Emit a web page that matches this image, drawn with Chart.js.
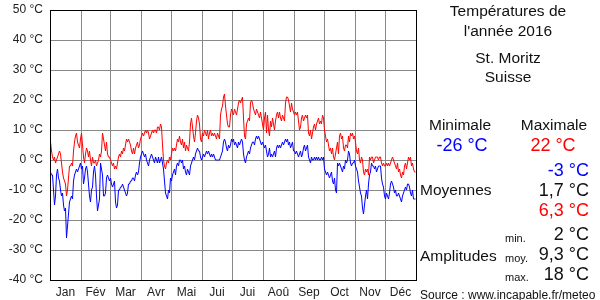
<!DOCTYPE html>
<html>
<head>
<meta charset="utf-8">
<script src="https://cdn.jsdelivr.net/npm/chart.js@4"></script>
<style>
  body { margin: 0; background: #fff; }
  #wrap { position: relative; width: 600px; height: 300px; font-family: "Liberation Sans", Arial, sans-serif; color: #111; }
  #wrap canvas { position: absolute; left: 0; top: 0; }
  .t { position: absolute; line-height: 1; white-space: nowrap; }
  .c { transform: translate(-50%, -50%); }
  .r { transform: translate(-100%, -50%); }
  .l { transform: translate(0, -50%); }
</style>
</head>
<body>
<div id="wrap">
  <canvas id="tempChart" width="600" height="300"></canvas>
  <div class="t c" style="left:508px;top:11px;font-size:15.5px">Températures de</div>
  <div class="t c" style="left:508px;top:31px;font-size:15.5px">l'année 2016</div>
  <div class="t c" style="left:508px;top:58px;font-size:15.5px">St. Moritz</div>
  <div class="t c" style="left:508px;top:77px;font-size:15.5px">Suisse</div>
  <div class="t c" style="left:460px;top:125px;font-size:15.5px">Minimale</div>
  <div class="t c" style="left:554px;top:125px;font-size:15.5px">Maximale</div>
  <div class="t c" style="left:462px;top:145px;font-size:18px;color:#00f">-26 °C</div>
  <div class="t c" style="left:553px;top:145px;font-size:18px;color:#f00">22 °C</div>
  <div class="t r" style="left:589px;top:170px;font-size:18px;color:#00f">-3 °C</div>
  <div class="t l" style="left:420px;top:190px;font-size:15.5px">Moyennes</div>
  <div class="t r" style="left:589px;top:190px;font-size:18px">1,7 °C</div>
  <div class="t r" style="left:589px;top:210px;font-size:18px;color:#f00">6,3 °C</div>
  <div class="t l" style="left:505px;top:238px;font-size:11px">min.</div>
  <div class="t r" style="left:589px;top:234px;font-size:18px">2 °C</div>
  <div class="t l" style="left:420px;top:256px;font-size:15.5px">Amplitudes</div>
  <div class="t l" style="left:505px;top:258px;font-size:11px">moy.</div>
  <div class="t r" style="left:589px;top:254px;font-size:18px">9,3 °C</div>
  <div class="t l" style="left:505px;top:277px;font-size:11px">max.</div>
  <div class="t r" style="left:589px;top:274px;font-size:18px">18 °C</div>
  <div class="t l" style="left:420px;top:295px;font-size:12px">Source : www.incapable.fr/meteo</div>
</div>
<script>
const monthLabels = ['Jan', 'Fév', 'Mar', 'Avr', 'Mai', 'Jui', 'Jui', 'Aoû', 'Sep', 'Oct', 'Nov', 'Déc'];
const monthDays = [31, 29, 31, 30, 31, 30, 31, 31, 30, 31, 30, 31];

// daily maximum, 2016
const tmax = [
  6, 3, 1, 0, 1, -1, 0, 1, 2, 3, 2, -1, -4, -6, -7, -8, -12, -10, -6, -2, -2, -1, -2, 3, 6, 8, 9, 6, 5, 4, 7,
  9, 5, 1, -1, 2, 4, 3, 1, 3, 0, -2, 1, -1, -1, 0, -2, -1, 0, 2, 1, 3, 9, 7, 5, 3, 6, 2, 1, 1,
  0, -1, -2, -1, -3, -2, -3, -1, 1, 2, 1, 3, 2, 4, 3, 5, 7, 6, 7, 6, 5, 3, 2, 4, 2, 4, 5, 6, 4, 5, 7,
  8, 9, 8, 9, 10, 9, 10, 9, 7, 8, 9, 10, 9, 10, 10, 9, 11, 11, 10, 12, 11, 5, 0, -2, -3, -1, 0, -1, 1, 0,
  2, 4, 3, 4, 3, 5, 7, 6, 8, 6, 5, 7, 4, 6, 3, 5, 4, 3, 6, 12, 14, 11, 8, 6, 9, 13, 15, 14, 12, 7, 6,
  9, 8, 10, 9, 8, 10, 7, 9, 10, 8, 9, 8, 9, 8, 7, 9, 8, 7, 15, 17, 18, 21, 22, 18, 15, 12, 11, 11, 15, 17,
  16, 15, 17, 16, 15, 17, 19, 20, 19, 20, 21, 14, 8, 7, 12, 13, 14, 13, 19, 20, 19, 17, 16, 15, 17, 16, 15, 14, 16, 14, 12,
  10, 14, 16, 9, 15, 10, 8, 13, 11, 14, 12, 10, 13, 15, 16, 14, 16, 14, 13, 15, 14, 13, 19, 21, 21, 20, 18, 16, 19, 17, 16,
  15, 16, 15, 16, 13, 10, 11, 14, 15, 13, 14, 15, 14, 15, 9, 8, 10, 7, 9, 11, 12, 10, 12, 13, 14, 12, 13, 12, 15, 14,
  10, 8, 6, 7, 5, 3, 4, 2, 4, 1, 0, 2, 4, 6, 2, 8, 9, 7, 8, 4, 3, 5, 5, 4, 8, 6, 9, 8, 9, 7, 8,
  6, 3, 2, 4, 0, -1, 1, 0, -4, -5, -3, -4, -3, -5, 1, 0, 1, 1, -1, 0, 1, 1, 1, 0, 1, 1, -1, -2, -1, -2,
  -2, -1, -2, -1, -2, -1, 0, 1, 0, -1, -2, -3, -1, -4, -3, -5, -6, -4, -5, -2, -1, -3, -1, 1, 0, 1, -2, -1, -3, -4, -4
];

// daily minimum, 2016
const tmin = [
  -4, -5, -5, -10, -15, -12, -5, -3, -6, -7, -10, -12, -11, -15, -17, -16, -26, -22, -18, -14, -13, -12, -13, -7, -5, -4, -3, -4, -3, -2, -1,
  -3, -2, -8, -6, -3, -2, -4, -8, -12, -14, -10, -9, -4, -2, -5, -12, -17, -15, -13, -1, -3, -5, -12, -12, -11, -6, -5, -6, -7,
  -6, -8, -9, -8, -7, -14, -16, -15, -10, -10, -9, -9, -8, -9, -10, -11, -12, -11, -8, -8, -7, -7, -6, -6, -7, -5, -4, -5, -4, -1, 1,
  2, 3, 2, 1, 2, 0, -1, -2, 0, 1, 2, 1, 0, -1, 1, 0, -1, 1, -1, 0, 1, -1, -3, -7, -11, -12, -13, -10, -11, -6,
  -7, -5, -4, -3, -5, -2, -1, -2, 0, 0, -1, 0, -3, -2, -4, -5, -3, -4, -5, -2, -1, 0, 1, 0, 2, 3, 4, 3, 3, 1, 0,
  1, 2, 1, 2, 3, 2, 3, 2, 1, 2, 1, 2, 1, 0, 0, 0, 0, 0, 1, 2, 3, 6, 7, 6, 4, 3, 5, 4, 5, 7,
  6, 7, 5, 6, 5, 4, 6, 5, 6, 7, 6, 2, 0, -1, 1, 2, 3, 2, 4, 5, 6, 6, 5, 7, 8, 7, 8, 7, 6, 5, 6,
  5, 4, 5, 3, 1, 2, 4, 1, 2, 1, 2, 3, 1, 4, 5, 4, 5, 4, 5, 6, 5, 6, 7, 6, 7, 5, 6, 4, 5, 6, 3,
  3, 2, 3, 2, 1, 2, 3, 1, 2, 4, 5, 3, 4, 5, 1, 0, -1, 1, 0, 0, 1, 0, 1, 0, 1, 0, 0, 1, 0, 1,
  -3, -4, -5, -4, -5, -6, -5, -4, -7, -8, -6, -10, -11, -1, -2, -1, -2, -3, -4, -2, -3, 0, -1, 0, 3, 2, -1, -2, -1, -1, 0,
  -2, -3, -4, -7, -9, -11, -12, -16, -18, -15, -12, -10, -13, -8, -5, -4, -1, -2, -2, -3, -2, -4, -3, -2, -2, -2, -6, -8, -9, -12,
  -13, -11, -12, -13, -11, -8, -7, -8, -9, -11, -10, -12, -12, -11, -12, -13, -14, -12, -11, -10, -9, -10, -8, -8, -9, -11, -12, -10, -13, -13, -13
];

// x tick values: month boundaries (grid) alternating with month centres (labels)
const xTicks = [];
let start = 0;
monthDays.forEach(n => {
  xTicks.push(start, start + n / 2);
  start += n;
});
xTicks.push(start);

const frame = {
  id: 'frame',
  afterDraw(chart) {
    const a = chart.chartArea;
    const c = chart.ctx;
    c.save();
    c.strokeStyle = '#000';
    c.lineWidth = 1;
    c.strokeRect(Math.round(a.left) + 0.5, Math.round(a.top) + 0.5, Math.round(a.right - a.left), Math.round(a.bottom - a.top));
    c.restore();
  }
};

const ctx = document.getElementById('tempChart').getContext('2d');
new Chart(ctx, {
  type: 'line',
  data: {
    datasets: [{
      data: tmax.map((v, i) => ({ x: i + 0.5, y: v })),
      borderColor: '#ff0000',
      borderWidth: 1,
      pointRadius: 0
    }, {
      data: tmin.map((v, i) => ({ x: i + 0.5, y: v })),
      borderColor: '#0000ff',
      borderWidth: 1,
      pointRadius: 0
    }]
  },
  options: {
    responsive: false,
    animation: false,
    layout: { padding: { left: 0, right: 184, top: 10, bottom: 0 } },
    plugins: { legend: { display: false }, tooltip: { enabled: false } },
    scales: {
      x: {
        type: 'linear',
        min: 0,
        max: 366,
        afterBuildTicks: s => { s.ticks = xTicks.map(v => ({ value: v })); },
        afterFit: s => {
          s.height = 20;
          s.paddingLeft = 0; s.paddingRight = 0; s.paddingTop = 0; s.paddingBottom = 0;
        },
        grid: {
          color: c => (c.index % 2 === 0 ? '#888' : 'rgba(0,0,0,0)'),
          drawTicks: false
        },
        border: { color: '#000' },
        ticks: {
          autoSkip: false,
          maxRotation: 0,
          padding: 5,
          color: '#222',
          font: { family: 'Liberation Sans', size: 12 },
          callback: (v, i) => (i % 2 ? monthLabels[(i - 1) / 2] : '')
        }
      },
      y: {
        min: -40,
        max: 50,
        afterFit: s => {
          s.width = 50;
          s.paddingLeft = 0; s.paddingRight = 0; s.paddingTop = 0; s.paddingBottom = 0;
        },
        grid: { color: '#888', drawTicks: false },
        border: { color: '#000' },
        ticks: {
          stepSize: 10,
          padding: 7,
          color: '#222',
          font: { family: 'Liberation Sans', size: 12 },
          callback: v => v + ' °C'
        }
      }
    }
  },
  plugins: [frame]
});
</script>
</body>
</html>
